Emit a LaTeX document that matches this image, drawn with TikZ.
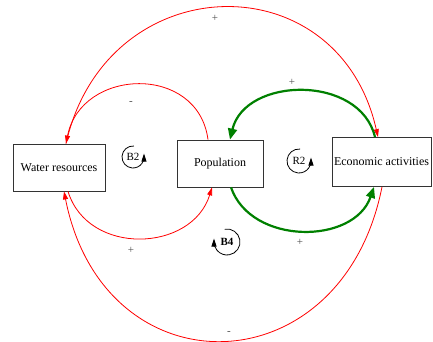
\documentclass[tikz,border=0pt]{standalone}
\usepackage{fontspec}
\setmainfont{Liberation Serif}
\usetikzlibrary{arrows.meta}
\tikzset{
  box/.style={draw=black!80, line width=0.8pt, fill=white, minimum height=47pt, inner sep=0pt, font=\fontsize{12}{14}\selectfont},
  redlink/.style={draw=red, line width=0.8pt, -{Triangle[length=8pt,width=5pt]}},
  greenlink/.style={draw=green!50!black, line width=2.2pt, -{Triangle[length=11pt,width=9pt]}},
  sign/.style={text=black!70, font=\fontsize{11}{11}\selectfont, inner sep=0pt},
  looplabel/.style={font=\fontsize{11}{11}\selectfont, inner sep=0pt},
  looparrow/.style={draw=black, line width=0.8pt, -{Triangle[length=8pt,width=5pt]}},
}
\begin{document}
\begin{tikzpicture}[x=1pt,y=1pt]
  \useasboundingbox (0,0) rectangle (433,342);
  % stocks
  \node[box, minimum width=92pt] (water) at (59,174.5) {Water resources};
  \node[box, minimum width=86pt] (pop) at (220,178.5) {Population};
  \node[box, minimum width=99pt, minimum height=49pt] (econ) at (381.5,180) {Economic activities};
  % causal links
  \draw[redlink] ([xshift=7pt]water.north) .. controls +(40,177) and +(-40,177) .. ([xshift=-3.5pt]econ.north);
  \draw[redlink] ([xshift=-12pt]pop.north) .. controls +(-10,76) and +(15,76) .. ([xshift=7pt]water.north);
  \draw[greenlink] ([xshift=-6.5pt]econ.north) .. controls +(-15,63) and +(15,63) .. ([xshift=10pt]pop.north);
  \draw[redlink] ([xshift=9pt]water.south) .. controls +(20,-65) and +(-20,-65) .. ([xshift=-8pt]pop.south);
  \draw[greenlink] ([xshift=11pt]pop.south) .. controls +(20,-58) and +(-20,-58) .. ([xshift=-7.5pt]econ.south);
  \draw[redlink] ([xshift=0.5pt]econ.south) .. controls +(-40,-202) and +(40,-202) .. ([xshift=5pt]water.south);
  % polarities
  \node[sign] (s1) at (215,324) {+};
  \node[sign] (s2) at (292,260) {+};
  \node[sign] (s3) at (131,239) {-};
  \node[sign] (s4) at (131,92) {+};
  \node[sign] (s5) at (300,100) {+};
  \node[sign] (s6) at (229,9) {-};
  % loop markers
  \node[looplabel] (b2) at (133,185) {B2};
  \draw[looparrow] ([shift={(85:11)}]b2.center) arc[start angle=85, end angle=362, radius=11] -- +(0,3);
  \node[looplabel] (r2) at (299,181) {R2};
  \draw[looparrow] ([shift={(85:12)}]r2.center) arc[start angle=85, end angle=362, radius=12] -- +(0,3);
  \node[looplabel, font=\fontsize{11}{11}\selectfont\bfseries] (b4) at (227,100) {B4};
  \draw[looparrow] ([shift={(100:13)}]b4.center) arc[start angle=100, end angle=-182, radius=13] -- +(0,3);
\end{tikzpicture}
\end{document}
